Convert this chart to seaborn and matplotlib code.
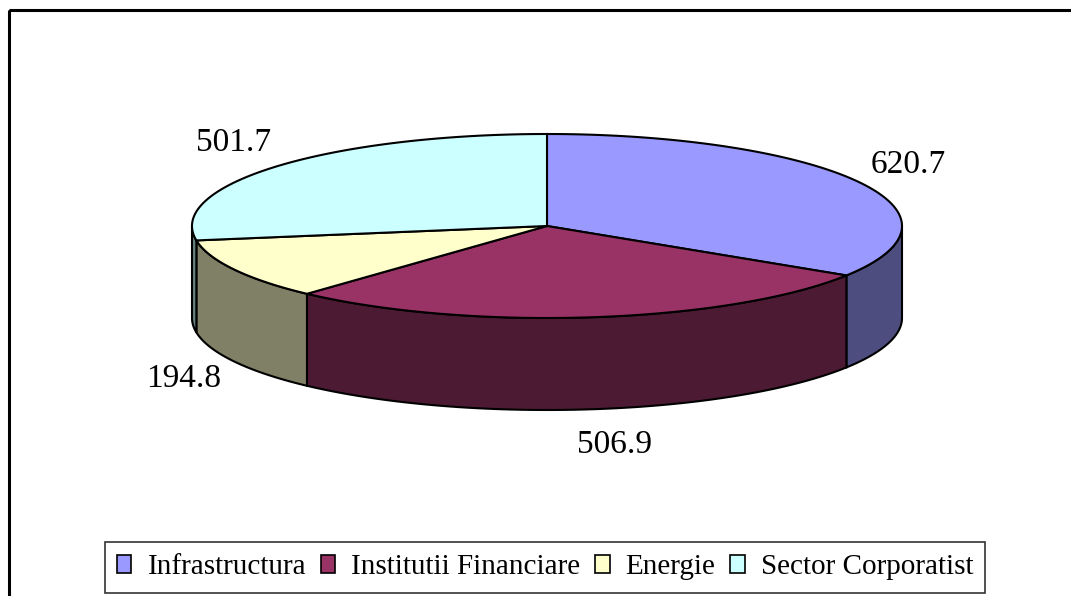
import numpy as np
import matplotlib
matplotlib.use("Agg")
import matplotlib.pyplot as plt
import seaborn as sns
from matplotlib.patches import Polygon, Rectangle, Patch

sns.set_theme(style="white")
plt.rcParams['font.family'] = ['Liberation Serif', 'DejaVu Serif']
plt.rcParams['text.color'] = 'black'

categories = ["Infrastructura", "Institutii Financiare", "Energie", "Sector Corporatist"]
values = [620.7, 506.9, 194.8, 501.7]
labels = ["620.7", "506.9", "194.8", "501.7"]
top_colors = ["#9999FF", "#993366", "#FFFFCC", "#CCFFFF"]
side_colors = ["#4D4D80", "#4D1A33", "#808066", "#668080"]

W, H = 1071, 596
fig = plt.figure(figsize=(W / 100, H / 100), dpi=100)
ax = fig.add_axes([0, 0, 1, 1])
ax.set_xlim(0, W)
ax.set_ylim(H, 0)
ax.axis("off")

# outer frame
ax.add_patch(Rectangle((8.5, 9.5), 1200, 800, fill=False, lw=2.2, ec="black", zorder=1))

cx, cy, rx, ry, depth = 547, 226, 355, 92, 92

def pt(theta_deg, dz=0.0):
    t = np.radians(theta_deg)
    return cx + rx * np.cos(t), cy - ry * np.sin(t) + dz

total = float(sum(values))
angles = [90.0]
for v in values:
    angles.append(angles[-1] - 360.0 * v / total)

# sides (front half: theta in [-180, 0])
for i in range(len(values)):
    a1, a2 = angles[i], angles[i + 1]  # a1 > a2
    lo, hi = max(a2, -180.0), min(a1, 0.0)
    if lo >= hi:
        continue
    th = np.linspace(hi, lo, 80)
    top = [pt(t) for t in th]
    bot = [pt(t, depth) for t in th[::-1]]
    ax.add_patch(Polygon(top + bot, closed=True, fc=side_colors[i], ec="black", lw=1.5, zorder=2))

# top faces
for i in range(len(values)):
    a1, a2 = angles[i], angles[i + 1]
    th = np.linspace(a1, a2, 200)
    poly = [(cx, cy)] + [pt(t) for t in th]
    ax.add_patch(Polygon(poly, closed=True, fc=top_colors[i], ec="black", lw=1.5, zorder=3))

# value labels
for i in range(len(values)):
    mid = np.radians((angles[i] + angles[i + 1]) / 2)
    x = cx + 412 * np.cos(mid)
    y = cy - 128 * np.sin(mid)
    if np.sin(mid) < 0:
        y += depth
    if abs(np.cos(mid)) < 0.3:
        x += 14
    ax.text(x, y, labels[i], ha="center", va="center", fontsize=24, color="black", zorder=4)

handles = [Patch(fc=c, ec="black", lw=1.2) for c in top_colors]
leg = ax.legend(handles, categories, loc="center", bbox_to_anchor=(545 / W, 1 - 567.5 / H),
                ncol=4, fontsize=21, frameon=True, fancybox=False, edgecolor="black",
                handlelength=0.5, handleheight=0.6, handletextpad=0.55, columnspacing=0.5,
                borderpad=0.42, borderaxespad=0, labelcolor="black")
leg.get_frame().set_linewidth(1.2)
leg.get_frame().set_facecolor("white")

fig.savefig("out.png", dpi=100, facecolor="white")
